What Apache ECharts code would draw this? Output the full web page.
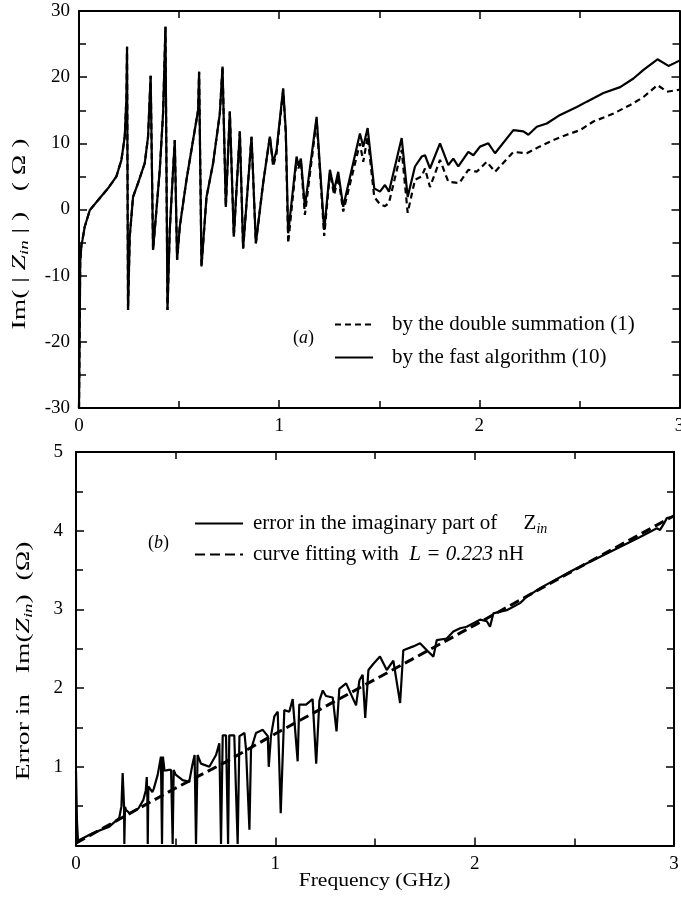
<!DOCTYPE html>
<html><head><meta charset="utf-8">
<script src="https://cdn.jsdelivr.net/npm/echarts@6/dist/echarts.min.js"></script>
<style>html,body{margin:0;padding:0;background:#fff}#c{width:681px;height:897px}</style>
</head><body><div id="c"></div>
<script>
// ---- Panel (a): Im(Z_in) by the fast algorithm (solid) ----
const topFastF = [0,0.003,0.006,0.012,0.018,0.0285,0.054,0.095,0.145,0.187,0.212,0.2285,0.237,0.240,0.245,0.2535,0.27,0.295,0.3285,0.345,0.358,0.37,0.387,0.4035,0.42,0.432,0.442,0.4535,0.47,0.4785,0.49,0.5035,0.537,0.57,0.595,0.60,0.612,0.637,0.67,0.7035,0.717,0.7335,0.7535,0.7735,0.8035,0.82,0.862,0.8835,0.92,0.9535,0.97,0.987,1.02,1.033,1.045,1.087,1.096,1.1085,1.1285,1.187,1.225,1.2535,1.275,1.295,1.32,1.4035,1.42,1.442,1.475,1.5035,1.5285,1.5485,1.612,1.642,1.6785,1.712,1.7285,1.7535,1.8035,1.845,1.87,1.895,1.945,1.97,2.0035,2.045,2.0785,2.17,2.22,2.245,2.287,2.337,2.4035,2.487,2.537,2.62,2.7035,2.77,2.82,2.89,2.945,3.0];
const topFastV = [-30,-20,-8,-5.4,-4.5,-2.6,-0.1,1.4,3.2,5.0,7.5,11,17,24.6,-15.2,-4.1,1.9,4.0,7.0,11,20.2,-6.1,0,6,14.5,27.6,-15.2,-3.1,6,10.5,-7.6,-2.6,4.5,10.5,15,20.8,-8.6,1.9,7,14.5,21.6,0.4,14.8,-4.1,11.8,-5.9,11,-5.1,4,11,7,9,18.3,12,-3.6,8,6.6,7.7,0.4,14,-3.1,6,2.9,5.7,0.4,11.5,9.5,12.3,3.2,2.7,3.7,2.7,10.8,1.9,6.5,8.0,8.2,6.2,10,6.7,7.7,6.5,8.7,8.2,9.5,10,8.5,12,11.8,11.3,12.5,13,14.3,15.5,16.3,17.6,18.5,19.8,21.1,22.7,21.7,22.5];
// ---- Panel (a): Im(Z_in) by the double summation (dashed) ----
const topDoubleF = [0,0.003,0.006,0.012,0.018,0.0285,0.054,0.095,0.145,0.187,0.212,0.2285,0.237,0.240,0.245,0.2535,0.27,0.295,0.3285,0.345,0.358,0.37,0.387,0.4035,0.42,0.432,0.442,0.4535,0.47,0.4785,0.49,0.5035,0.537,0.57,0.595,0.60,0.612,0.637,0.67,0.7035,0.717,0.7335,0.7535,0.7735,0.8035,0.82,0.862,0.8835,0.92,0.9535,0.97,0.987,1.02,1.033,1.045,1.087,1.096,1.1085,1.1285,1.187,1.225,1.2535,1.275,1.295,1.32,1.4035,1.42,1.442,1.475,1.5035,1.5285,1.5485,1.612,1.642,1.6785,1.712,1.7285,1.7535,1.8035,1.845,1.90,1.945,1.987,2.037,2.0785,2.17,2.237,2.30,2.37,2.437,2.5035,2.57,2.67,2.754,2.82,2.89,2.937,3.0];
const topDoubleV = [-30,-20,-8,-5.4,-4.5,-2.6,-0.1,1.4,3.2,5.0,7.5,11,17,24.6,-15.2,-4.1,1.9,4.0,7.0,11,20.2,-6.1,0,6,14.5,27.6,-15.2,-3.1,6,10.5,-7.6,-2.6,4.5,10.5,15,20.8,-8.6,1.9,7,14.5,21.6,0.4,14.8,-4.1,11.8,-5.9,11,-5.1,4,11,6.5,8.5,18.0,11.5,-5.1,7.5,6.2,7.3,-0.8,13.5,-4.0,5.5,2.2,5.0,-0.3,10,7.2,11.0,1.9,0.8,0.5,1.0,9.0,-0.5,4.5,5.0,6.2,3.4,7.5,4.2,4.0,6.0,5.7,7.2,5.7,8.7,8.5,9.5,10.5,11.3,12.0,13.3,14.5,15.8,17.0,18.8,17.8,18.1];
// ---- Panel (b): error in the imaginary part (solid) ----
const botErrF = [0,0.005,0.01,0.02,0.083,0.167,0.217,0.228,0.234,0.238,0.241,0.2425,0.246,0.251,0.27,0.313,0.338,0.35,0.355,0.358,0.36,0.363,0.383,0.39,0.41,0.426,0.4315,0.436,0.444,0.465,0.477,0.485,0.49,0.50,0.535,0.568,0.585,0.595,0.602,0.61,0.627,0.669,0.7025,0.719,0.7275,0.736,0.7525,0.763,0.769,0.794,0.811,0.82,0.845,0.853,0.87,0.878,0.903,0.937,0.962,0.967,0.978,0.995,1.012,1.027,1.045,1.07,1.087,1.112,1.12,1.154,1.187,1.205,1.221,1.238,1.254,1.288,1.307,1.321,1.355,1.405,1.422,1.438,1.451,1.467,1.492,1.525,1.559,1.592,1.626,1.642,1.692,1.726,1.76,1.793,1.81,1.86,1.893,1.927,1.96,2.027,2.061,2.077,2.094,2.161,2.228,2.261,2.328,2.495,2.663,2.83,2.914,2.93,2.947,2.964,2.997];
const botErrV = [0.95,0.3,0.06,0.08,0.155,0.24,0.35,0.5,0.92,0.9,0.5,0.02,0.49,0.45,0.41,0.47,0.58,0.7,0.87,0.6,0.02,0.75,0.68,0.72,0.9,1.13,0.02,1.13,0.95,0.96,0.96,0.02,0.96,0.9,0.83,0.81,1.04,1.15,0.02,1.15,1.04,1.0,1.15,1.30,0.02,1.40,1.40,0.02,1.40,1.40,0.02,1.39,1.43,1.22,0.2,1.22,1.43,1.47,1.39,1.0,1.39,1.64,1.70,0.41,1.72,1.70,1.86,1.07,1.79,1.79,1.86,1.04,1.84,1.97,1.90,1.88,1.45,1.99,2.06,1.78,2.10,2.17,1.62,2.23,2.31,2.40,2.23,2.35,1.81,2.48,2.53,2.57,2.48,2.40,2.61,2.63,2.72,2.76,2.78,2.87,2.85,2.78,2.95,2.99,3.08,3.16,3.27,3.50,3.71,3.92,4.03,4.01,4.08,4.16,4.18];
// ---- Panel (b): curve fitting with L = 0.223 nH (dashed) ----
const botFitF = [0,0.25,0.5,0.75,1.0,1.5,2.0,2.5,3.0];
const botFitV = [0.03,0.38,0.73,1.06,1.42,2.11,2.80,3.50,4.19];

const names = {
  dbl: 'by the double summation (1)',
  fast: 'by the fast algorithm (10)',
  err: 'error in the imaginary part of Z_in',
  fit: 'curve fitting with L = 0.223 nH'
};
const zip = (a, b) => a.map((x, i) => [x, b[i]]);
const FONT = '"Liberation Serif", "Times New Roman", serif';
const black = '#000';

function xAx(grid, pos, showLabel) {
  return {
    type: 'value', gridIndex: grid, position: pos, min: 0, max: 3, interval: 1,
    axisLine: { show: true, onZero: false, lineStyle: { color: black, width: 2 } },
    axisTick: { show: true, inside: true, length: 8, lineStyle: { color: black, width: 1.5 } },
    minorTick: { show: true, splitNumber: 2, length: 7, lineStyle: { color: black, width: 1.5 } },
    splitLine: { show: false },
    axisLabel: { show: showLabel, color: black, fontFamily: FONT, fontSize: 19, margin: 9 }
  };
}
function yAx(grid, pos, min, max, interval, showLabel, fmt, margin) {
  return {
    type: 'value', gridIndex: grid, position: pos, min: min, max: max, interval: interval,
    axisLine: { show: true, onZero: false, lineStyle: { color: black, width: 2 } },
    axisTick: { show: true, inside: true, length: 8, lineStyle: { color: black, width: 1.5 } },
    minorTick: { show: true, splitNumber: 2, length: 7, lineStyle: { color: black, width: 1.5 } },
    splitLine: { show: false },
    axisLabel: { show: showLabel, color: black, fontFamily: FONT, fontSize: 19, margin: margin, formatter: fmt }
  };
}

function rich(sz) {
  return {
    n: { fontFamily: FONT, fontSize: sz, color: black, lineHeight: sz + 4, verticalAlign: 'middle' },
    it: { fontFamily: FONT, fontSize: sz, fontStyle: 'italic', color: black, lineHeight: sz + 4, verticalAlign: 'middle' },
    sub: { fontFamily: FONT, fontSize: Math.round(sz * 0.68), fontStyle: 'italic', color: black, lineHeight: Math.round(sz * 0.68) + 2, verticalAlign: 'bottom' }
  };
}

const chart = echarts.init(document.getElementById('c'), null, { renderer: 'canvas' });
chart.setOption({
  animation: false,
  backgroundColor: '#fff',
  grid: [
    { left: 79, top: 11, right: 1.5, height: 397, outerBoundsMode: 'none', containLabel: false },
    { left: 76, top: 452, right: 7, height: 393.5, outerBoundsMode: 'none', containLabel: false }
  ],
  xAxis: [
    xAx(0, 'bottom', true),
    xAx(0, 'top', false),
    xAx(1, 'bottom', true),
    xAx(1, 'top', false)
  ],
  yAxis: [
    yAx(0, 'left', -30, 30, 10, true, null, 9),
    yAx(0, 'right', -30, 30, 10, false, null, 9),
    yAx(1, 'left', 0, 5, 1, true, v => (v === 0 ? '' : String(v)), 13),
    yAx(1, 'right', 0, 5, 1, false, null, 9)
  ],
  legend: [
    {
      data: [names.dbl, names.fast], orient: 'vertical', left: 334, top: 314, padding: 0,
      itemWidth: 38, itemHeight: 14, itemGap: 12, selectedMode: false,
      itemStyle: { color: 'rgba(0,0,0,0)', borderWidth: 0, opacity: 0 },
      textStyle: { fontFamily: FONT, fontSize: 21, color: black, padding: [0, 0, 0, 14] }
    },
    {
      data: [names.err, names.fit], orient: 'vertical', left: 194, top: 513, padding: 0,
      itemWidth: 48, itemHeight: 14, itemGap: 8, selectedMode: false,
      itemStyle: { color: 'rgba(0,0,0,0)', borderWidth: 0, opacity: 0 },
      formatter: function (n) {
        if (n === names.err) return '{n|error in the imaginary part of     Z}{sub|in}';
        return '{n|curve fitting with  }{it|L = 0.223}{n| nH}';
      },
      textStyle: { fontFamily: FONT, fontSize: 21, color: black, padding: [0, 0, 0, 5], rich: rich(21) }
    }
  ],
  graphic: [
    { type: 'text', left: 293, top: 329, style: { text: '({it|a})', font: '18px ' + FONT, fill: black, rich: rich(18) } },
    { type: 'text', left: 148, top: 534, style: { text: '({it|b})', font: '18px ' + FONT, fill: black, rich: rich(18) } },
    { type: 'text', x: 20, y: 234, rotation: Math.PI / 2, scaleX: 1.45,
      style: { text: '{n|Im( | }{it|Z}{sub|in}{n| | )   ( Ω )}', align: 'center', verticalAlign: 'middle', rich: rich(19) } },
    { type: 'text', x: 24, y: 661, rotation: Math.PI / 2, scaleX: 1.45,
      style: { text: '{n|Error in   Im(}{it|Z}{sub|in}{n|)  (Ω)}', align: 'center', verticalAlign: 'middle', rich: rich(19) } },
    { type: 'text', x: 374.5, y: 881.5, scaleX: 1.2,
      style: { text: 'Frequency (GHz)', font: '18px ' + FONT, fill: black, align: 'center', verticalAlign: 'middle' } }
  ],
  series: [
    { name: names.dbl, type: 'line', xAxisIndex: 0, yAxisIndex: 0, data: zip(topDoubleF, topDoubleV),
      symbol: 'none', lineStyle: { color: black, width: 2.2, type: [6, 4] }, itemStyle: { color: black } },
    { name: names.fast, type: 'line', xAxisIndex: 0, yAxisIndex: 0, data: zip(topFastF, topFastV),
      symbol: 'none', lineStyle: { color: black, width: 2.2 }, itemStyle: { color: black } },
    { name: names.fit, type: 'line', xAxisIndex: 2, yAxisIndex: 2, data: zip(botFitF, botFitV),
      symbol: 'none', lineStyle: { color: black, width: 3, type: [10, 5] }, itemStyle: { color: black } },
    { name: names.err, type: 'line', xAxisIndex: 2, yAxisIndex: 2, data: zip(botErrF, botErrV),
      symbol: 'none', lineStyle: { color: black, width: 2.2 }, itemStyle: { color: black } }
  ]
});
</script>
</body></html>
